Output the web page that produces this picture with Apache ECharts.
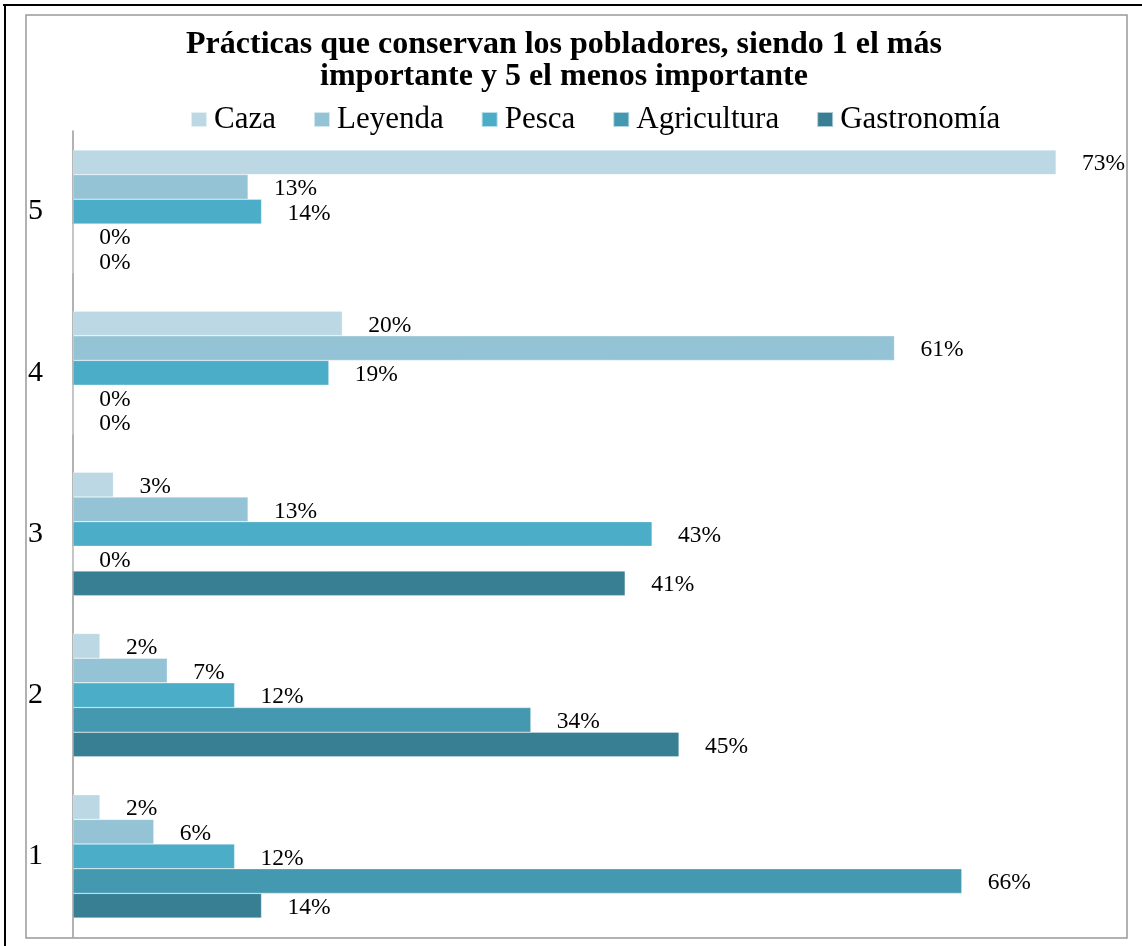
<!DOCTYPE html>
<html>
<head>
<meta charset="utf-8">
<script src="https://cdn.jsdelivr.net/npm/echarts@6/dist/echarts.min.js"></script>
<style>
html,body{margin:0;padding:0;background:#fff;}
#chart{width:1142px;height:946px;}
</style>
</head>
<body>
<div id="chart"></div>
<script>
// Data
const categories = ['1', '2', '3', '4', '5'];
const seriesNames = ['Caza', 'Leyenda', 'Pesca', 'Agricultura', 'Gastronomía'];
const caza = [2, 2, 3, 20, 73];
const leyenda = [6, 7, 13, 61, 13];
const pesca = [12, 12, 43, 19, 14];
const agricultura = [66, 34, 0, 0, 0];
const gastronomia = [14, 45, 41, 0, 0];
const colors = ['#BBD8E4', '#93C3D5', '#4BADC7', '#4498AF', '#387F94'];

const valuesByName = {
  'Caza': caza,
  'Leyenda': leyenda,
  'Pesca': pesca,
  'Agricultura': agricultura,
  'Gastronomía': gastronomia
};

const serif = 'Liberation Serif';

const series = seriesNames.map((name, i) => ({
  name: name,
  type: 'bar',
  data: valuesByName[name],
  barGap: '0%',
  barCategoryGap: '23.5%',
  itemStyle: { color: colors[i], borderColor: 'rgba(255,255,255,0.6)', borderWidth: 0.5 },
  label: {
    show: true,
    position: 'right',
    distance: 26,
    offset: [0, 2],
    formatter: '{c}%',
    fontFamily: serif,
    fontSize: 23.5,
    color: '#000'
  },
  emphasis: { disabled: true }
}));

const chart = echarts.init(document.getElementById('chart'), null, { renderer: 'canvas' });
chart.setOption({
  animation: false,
  backgroundColor: '#fff',
  title: {
    text: 'Prácticas que conservan los pobladores, siendo 1 el más\nimportante y 5 el menos importante',
    left: 564,
    textAlign: 'center',
    top: 29,
    padding: 0,
    textStyle: {
      fontFamily: serif,
      fontWeight: 'bold',
      fontSize: 32,
      lineHeight: 32,
      color: '#000'
    }
  },
  legend: {
    data: seriesNames,
    left: 190,
    top: 104,
    padding: 0,
    icon: 'rect',
    itemWidth: 16,
    itemHeight: 15,
    itemGap: 37,
    textStyle: { fontFamily: serif, fontSize: 31, color: '#000', padding: [0, 0, 0, 2] }
  },
  grid: { left: 73, top: 131, width: 1010, height: 806, containLabel: false },
  xAxis: {
    type: 'value',
    min: 0,
    max: 75,
    show: false,
    splitLine: { show: false }
  },
  yAxis: {
    type: 'category',
    data: categories,
    axisLine: { show: true, lineStyle: { color: '#999', width: 1.5 } },
    axisTick: { show: false },
    axisLabel: { fontFamily: serif, fontSize: 30, color: '#000', margin: 30 }
  },
  graphic: [
    { type: 'line', shape: { x1: 3, y1: 5, x2: 1142, y2: 5 }, style: { stroke: '#000', lineWidth: 2 } },
    { type: 'line', shape: { x1: 5, y1: 4, x2: 5, y2: 946 }, style: { stroke: '#000', lineWidth: 2 } },
    { type: 'rect', shape: { x: 26, y: 15, width: 1101, height: 923 }, style: { fill: 'none', stroke: '#999', lineWidth: 1.5 }, z: -1 }
  ],
  series: series
});
</script>
</body>
</html>
